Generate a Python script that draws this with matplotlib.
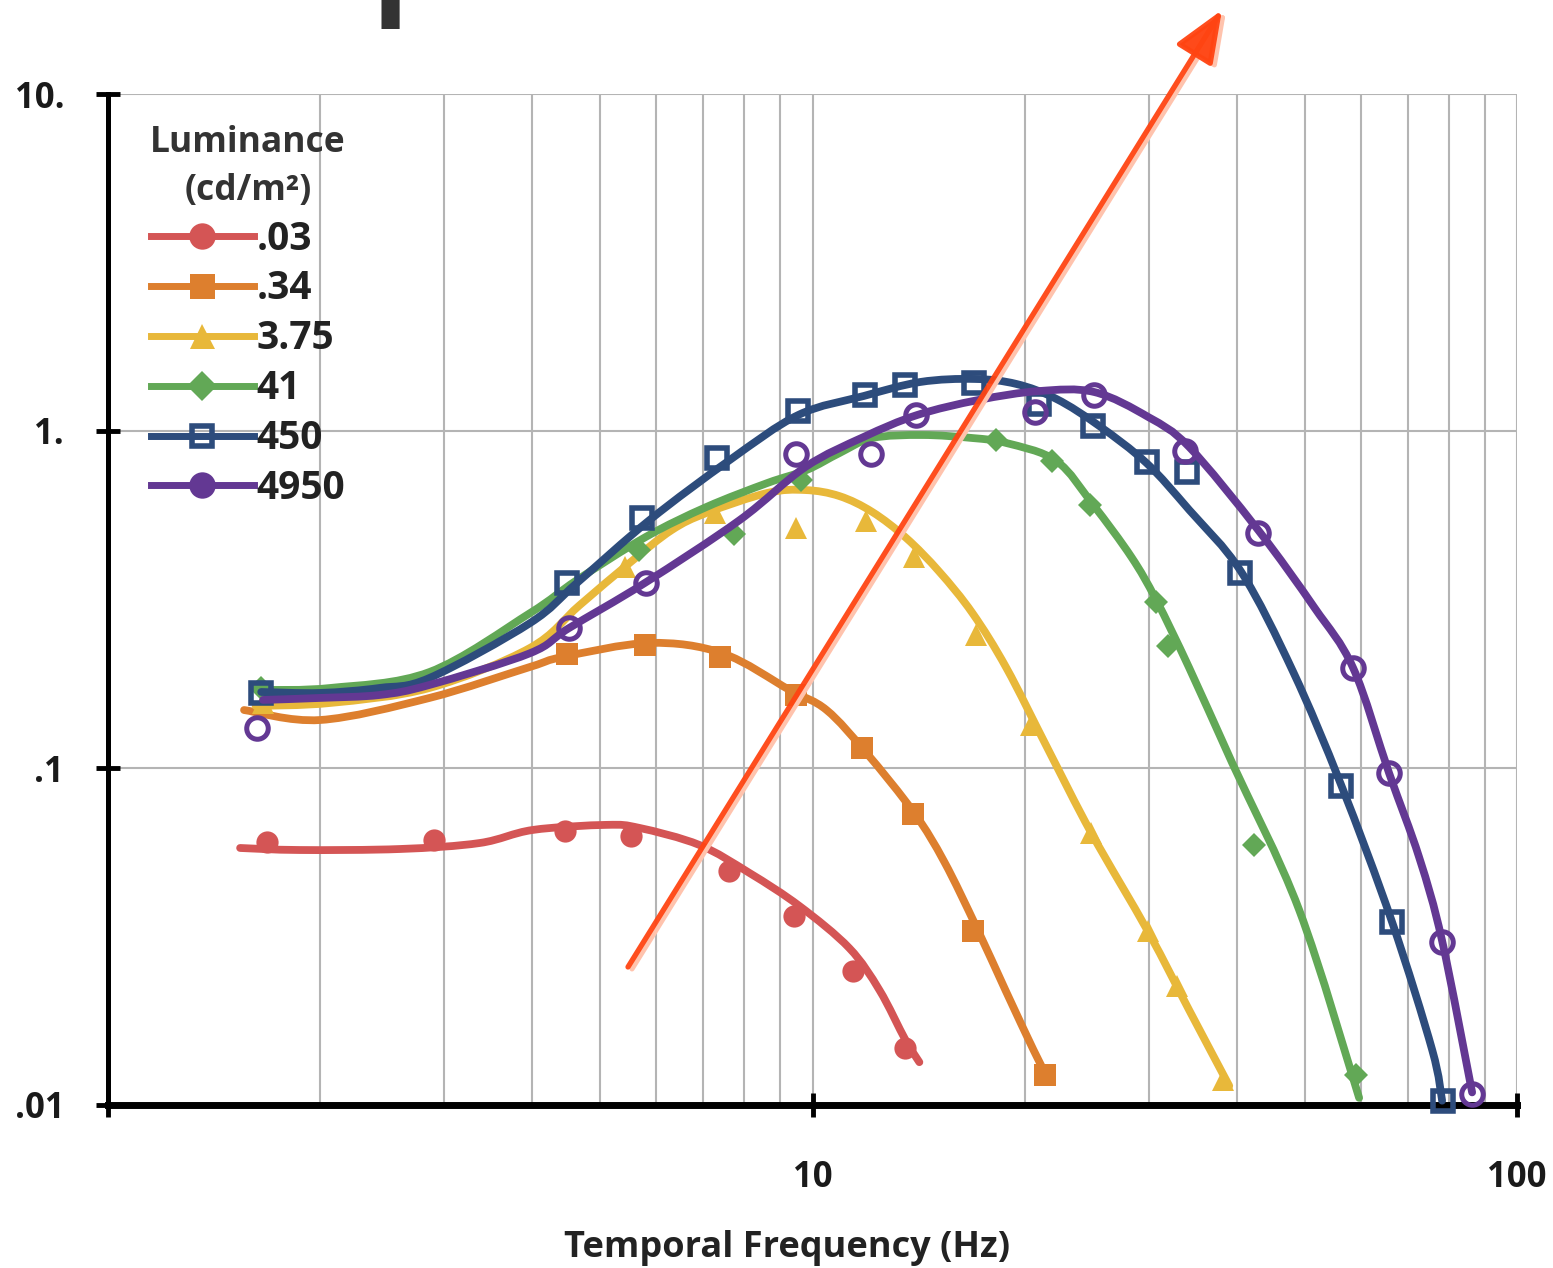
import matplotlib
matplotlib.use("Agg")
import numpy as np
import matplotlib.pyplot as plt
from matplotlib.lines import Line2D
from matplotlib.path import Path
from matplotlib.patches import FancyArrowPatch, PathPatch
from matplotlib.ticker import NullLocator

# measured points (markers) and fitted curves for each luminance (cd/m2)
f_003 = [1.68, 2.90, 4.46, 5.52, 7.60, 9.40, 11.4, 13.55]
s_003 = [0.0603, 0.0611, 0.0650, 0.0628, 0.0495, 0.0364, 0.0250, 0.0148]
fit_f_003 = [1.54, 1.87, 2.60, 3.37, 4.01, 5.10, 5.68, 6.91, 8.14, 9.59, 11.28, 12.45, 13.55, 14.18]
fit_s_003 = [0.0579, 0.0571, 0.0575, 0.0599, 0.0655, 0.0678, 0.0664, 0.0591, 0.0488, 0.0389, 0.0292, 0.0219, 0.0156, 0.0134]

f_034 = [4.48, 5.78, 7.38, 9.49, 11.74, 13.91, 16.87, 21.41]
s_034 = [0.218, 0.232, 0.2135, 0.165, 0.1147, 0.0730, 0.0328, 0.0123]
fit_f_034 = [1.56, 2.00, 2.86, 3.97, 4.42, 5.87, 7.45, 9.28, 10.47, 11.93, 13.95, 15.39, 17.09, 18.79, 20.58, 21.41]
fit_s_034 = [0.1486, 0.1388, 0.1614, 0.1994, 0.2135, 0.235, 0.219, 0.1704, 0.1486, 0.1108, 0.0735, 0.0526, 0.0337, 0.0219, 0.0146, 0.0124]

f_375 = [1.66, 5.41, 7.26, 9.49, 11.93, 13.95, 17.09, 20.45, 24.88, 29.97, 32.94, 38.28]
s_375 = [0.156, 0.395, 0.571, 0.515, 0.541, 0.423, 0.248, 0.134, 0.0641, 0.0328, 0.0225, 0.0119]
fit_f_375 = [1.62, 2.07, 2.86, 3.97, 4.67, 5.50, 6.31, 7.07, 8.63, 9.77, 10.92, 12.16, 13.59, 15.14, 16.87, 18.85, 21.62, 24.88, 29.97, 34.26, 39.04]
fit_s_375 = [0.1528, 0.156, 0.1728, 0.227, 0.304, 0.406, 0.508, 0.571, 0.655, 0.668, 0.641, 0.575, 0.481, 0.382, 0.288, 0.198, 0.1131, 0.0641, 0.0326, 0.0191, 0.0114]

f_41 = [1.65, 5.68, 7.73, 9.62, 18.24, 21.90, 24.80, 30.76, 31.99, 42.36, 59.12]
s_41 = [0.1728, 0.444, 0.495, 0.715, 0.940, 0.815, 0.603, 0.311, 0.230, 0.0591, 0.0123]
fit_f_41 = [1.65, 2.07, 2.86, 3.97, 4.63, 5.80, 7.07, 8.63, 9.81, 10.92, 12.16, 14.32, 16.87, 18.85, 22.19, 25.04, 28.35, 30.76, 34.26, 39.42, 49.07, 59.69]
fit_s_41 = [0.1704, 0.1728, 0.1927, 0.288, 0.361, 0.485, 0.595, 0.701, 0.766, 0.860, 0.953, 0.973, 0.953, 0.921, 0.815, 0.603, 0.423, 0.315, 0.198, 0.1035, 0.0379, 0.0105]

f_450 = [1.65, 4.48, 5.72, 7.33, 9.55, 11.89, 13.55, 16.98, 20.99, 25.04, 29.87, 34.03, 40.46, 56.29, 66.48, 78.55]
s_450 = [0.167, 0.354, 0.552, 0.832, 1.147, 1.279, 1.369, 1.388, 1.203, 1.035, 0.809, 0.756, 0.379, 0.0884, 0.0349, 0.0103]
fit_f_450 = [1.65, 2.00, 2.43, 2.86, 3.97, 4.63, 5.87, 7.63, 9.55, 11.82, 14.23, 16.98, 19.47, 22.19, 25.53, 29.78, 34.26, 40.60, 48.11, 56.29, 66.48, 75.77, 78.29]
fit_s_450 = [0.1681, 0.167, 0.1728, 0.185, 0.269, 0.354, 0.544, 0.820, 1.116, 1.270, 1.398, 1.427, 1.379, 1.245, 1.035, 0.804, 0.583, 0.382, 0.193, 0.089, 0.0349, 0.0146, 0.0103]

f_4950 = [1.63, 4.51, 5.80, 9.49, 12.12, 14.04, 20.72, 25.12, 33.81, 42.92, 58.54, 65.83, 78.29, 86.36]
s_4950 = [0.1314, 0.260, 0.354, 0.855, 0.855, 1.116, 1.139, 1.279, 0.872, 0.498, 0.198, 0.0966, 0.0305, 0.0108]
fit_f_4950 = [1.66, 2.00, 2.43, 2.86, 3.97, 4.51, 5.78, 7.88, 9.77, 11.82, 14.09, 17.20, 20.99, 25.12, 29.97, 34.26, 42.92, 51.53, 58.54, 65.83, 72.61, 78.29, 86.36]
fit_s_4950 = [0.1592, 0.1614, 0.1647, 0.1764, 0.219, 0.260, 0.354, 0.544, 0.782, 0.960, 1.116, 1.236, 1.314, 1.305, 1.100, 0.896, 0.508, 0.300, 0.198, 0.0966, 0.0544, 0.0307, 0.0109]

labels = [".03", ".34", "3.75", "41", "450", "4950"]
colors = ["#d45555", "#dd7f2e", "#e8b83a", "#62a856", "#2d4c7c", "#633893"]

FONT = ["Open Sans", "DejaVu Sans"]
plt.rcParams["font.family"] = FONT


def smooth_path(xs, ys):
    # smoothed line like a spreadsheet "smoothed line": cubic bezier segments through
    # the points, with control points taken in log-log space
    p = np.column_stack([np.log10(xs), np.log10(ys)])
    n = len(p)
    verts = [p[0]]
    codes = [Path.MOVETO]
    for i in range(n - 1):
        p0 = p[i - 1] if i > 0 else p[i]
        p1, p2 = p[i], p[i + 1]
        p3 = p[i + 2] if i + 2 < n else p[i + 1]
        verts += [p1 + (p2 - p0) / 6, p2 - (p3 - p1) / 6, p2]
        codes += [Path.CURVE4] * 3
    return Path(10 ** np.array(verts), codes)


fig = plt.figure(figsize=(15.53, 12.68), dpi=100)
ax = fig.add_axes([108 / 1553, 1 - 1105 / 1268, (1517 - 108) / 1553, (1105 - 94) / 1268])

ax.set_xscale("log")
ax.set_yscale("log")
ax.set_xlim(1, 100)
ax.set_ylim(0.01, 10)

# grid: every decade subdivision on x, decades only on y
ax.set_axisbelow(True)
ax.yaxis.set_minor_locator(NullLocator())
ax.grid(True, which="both", axis="x", color="#b4b4b4", lw=1.5)
ax.grid(True, which="major", axis="y", color="#b4b4b4", lw=1.5)

series = [
    (f_003, s_003, fit_f_003, fit_s_003),
    (f_034, s_034, fit_f_034, fit_s_034),
    (f_375, s_375, fit_f_375, fit_s_375),
    (f_41, s_41, fit_f_41, fit_s_41),
    (f_450, s_450, fit_f_450, fit_s_450),
    (f_4950, s_4950, fit_f_4950, fit_s_4950),
]
marker_style = [
    dict(marker="o", ms=16, mfc=colors[0], mew=0),
    dict(marker="s", ms=16, mfc=colors[1], mew=0),
    dict(marker="^", ms=16, mfc=colors[2], mew=0),
    dict(marker="D", ms=12.5, mfc=colors[3], mew=0),
    dict(marker="s", ms=14.5, mfc="none", mew=4),
    dict(marker="o", ms=15.5, mfc="none", mew=3.6),
]

for i, (fx, fy, lx, ly) in enumerate(series):
    c = colors[i]
    ax.add_patch(PathPatch(smooth_path(lx, ly), fill=False, edgecolor=c, lw=5.6,
                           capstyle="round", joinstyle="round", zorder=3 + i * 0.1))
    ax.plot(fx, fy, ls="none", mec=c, clip_on=False, zorder=3.05 + i * 0.1, **marker_style[i])

# axes styling
for side in ["top", "right"]:
    ax.spines[side].set_visible(False)
ax.spines["left"].set_linewidth(3.6)
ax.spines["bottom"].set_linewidth(5)

ax.set_xticks([1, 10, 100], ["", "10", "100"])
ax.set_yticks([0.01, 0.1, 1, 10], [".01", ".1", "1.", "10."])
ax.tick_params(axis="both", which="major", direction="inout", length=17, width=3.5, color="black")
ax.tick_params(axis="x", which="minor", length=0)
ax.tick_params(axis="y", which="major", pad=23)
ax.tick_params(axis="x", which="major", pad=31)
for t in ax.get_xticklabels() + ax.get_yticklabels():
    t.set_fontweight("bold")
    t.set_fontsize(25)
    t.set_color("#1a1a1a")

fig.text(787 / 1553, 1 - 1248 / 1268, "Temporal Frequency (Hz)", ha="center", va="center",
         fontsize=26, fontweight="bold", color="#222222")

# legend
legend_style = [
    dict(marker="o", ms=19, mfc=colors[0], mew=0),
    dict(marker="s", ms=18, mfc=colors[1], mew=0),
    dict(marker="^", ms=18, mfc=colors[2], mew=0),
    dict(marker="D", ms=15, mfc=colors[3], mew=0),
    dict(marker="s", ms=15, mfc="none", mew=4),
    dict(marker="o", ms=19, mfc=colors[5], mew=0),
]
handles = [Line2D([], [], color=colors[i], lw=5, mec=colors[i], **legend_style[i]) for i in range(6)]
leg = ax.legend(handles, labels, title="Luminance\n(cd/m²)", loc="upper left",
                bbox_to_anchor=(0.03, 0.969), frameon=False, handlelength=2.65,
                handletextpad=0.08, labelspacing=0.28, borderpad=0, borderaxespad=0,
                prop=dict(family=FONT, weight="bold", size=28))
title = leg.get_title()
title.set_fontweight("bold")
title.set_fontsize(25.5)
title.set_color("#333333")
title.set_multialignment("center")
title.set_linespacing(1.42)
for t in leg.get_texts():
    t.set_color("#222222")

# cut-off heading at the top of the slide
fig.text(28 / 1553, 1 + 1 / 1268, "Perception", ha="left", va="baseline",
         fontsize=90, fontweight="bold", color="#333333")

# red arrow with a pale shadow
tail = (628 / 1553, 1 - 967 / 1268)
tip = (1222 / 1553, 1 - 10 / 1268)
dx, dy = 4 / 1553, -2 / 1268
style = "-|>,head_length=1.6,head_width=0.65"
shadow = FancyArrowPatch((tail[0] + dx, tail[1] + dy), (tip[0] + dx, tip[1] + dy),
                         transform=fig.transFigure, arrowstyle=style,
                         mutation_scale=20, lw=3.6, color="#ffc3ad", shrinkA=0, shrinkB=0, zorder=9)
arrow = FancyArrowPatch(tail, tip, transform=fig.transFigure, arrowstyle=style,
                        mutation_scale=20, lw=3.8, color="#ff4412", alpha=0.95,
                        shrinkA=0, shrinkB=0, zorder=10)
fig.add_artist(shadow)
fig.add_artist(arrow)

fig.savefig("out.png", dpi=100)
